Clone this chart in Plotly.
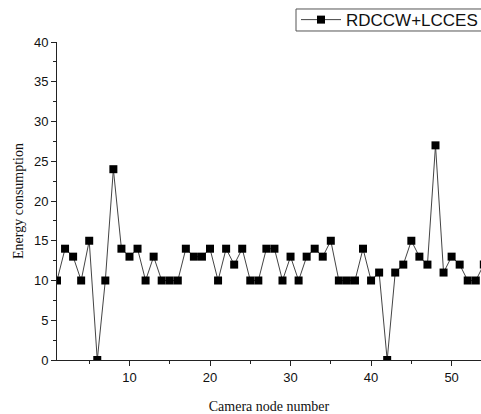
import plotly.graph_objects as go

node_numbers = list(range(1, 55))
energy = [10, 14, 13, 10, 15, 0, 10, 24, 14, 13,
          14, 10, 13, 10, 10, 10, 14, 13, 13, 14,
          10, 14, 12, 14, 10, 10, 14, 14, 10, 13,
          10, 13, 14, 13, 15, 10, 10, 10, 14, 10,
          11, 0, 11, 12, 15, 13, 12, 27, 11, 13,
          12, 10, 10, 12]
series_name = "RDCCW+LCCES"

fig = go.Figure()
fig.add_trace(go.Scatter(
    x=node_numbers, y=energy, mode="lines+markers", name=series_name,
    line=dict(color="#444444", width=1),
    marker=dict(symbol="square", size=8, color="black"),
    cliponaxis=True,
))

axis_common = dict(
    showline=True, linecolor="#222222", linewidth=1,
    ticks="outside", ticklen=5, tickcolor="#222222", tickwidth=1,
    showgrid=False, zeroline=False, automargin=False,
    tickfont=dict(family="Liberation Sans, Arial", size=13, color="#111111"),
    minor=dict(ticks="outside", ticklen=3, tickcolor="#222222", tickwidth=1, showgrid=False),
)

title_font = dict(family="Liberation Serif, Times New Roman", size=14, color="#111111")

fig.update_xaxes(range=[1, 53.65], tick0=0, dtick=10, minor_dtick=5,
                 title=dict(text="Camera node number", font=title_font, standoff=17),
                 **axis_common)
fig.update_yaxes(range=[0, 40], tick0=0, dtick=5, minor_dtick=2.5,
                 title=dict(text="Energy consumption", font=title_font, standoff=7),
                 **axis_common)

# legend frame (extends past the right edge of the visible page, as in the reference)
fig.add_shape(type="rect", xref="paper", yref="paper",
              x0=0.5637, x1=1.06, y0=1.0346, y1=1.1038,
              line=dict(color="#555555", width=1), fillcolor="rgba(0,0,0,0)",
              layer="above")

fig.update_layout(
    width=500, height=414,
    margin=dict(l=57, r=19, t=42, b=54, autoexpand=False),
    plot_bgcolor="white", paper_bgcolor="white",
    showlegend=True,
    legend=dict(xref="container", yref="container",
                x=0.592, y=0.995, xanchor="left", yanchor="top",
                borderwidth=0, bgcolor="rgba(0,0,0,0)",
                font=dict(family="Liberation Sans, Arial", size=17, color="#111111"),
                itemwidth=40, tracegroupgap=0),
)

fig.write_html(
    "out.html",
    config={"displayModeBar": False},
    post_script="document.body.style.margin='0';document.body.style.overflow='hidden';"
                "document.documentElement.style.overflow='hidden';",
)
